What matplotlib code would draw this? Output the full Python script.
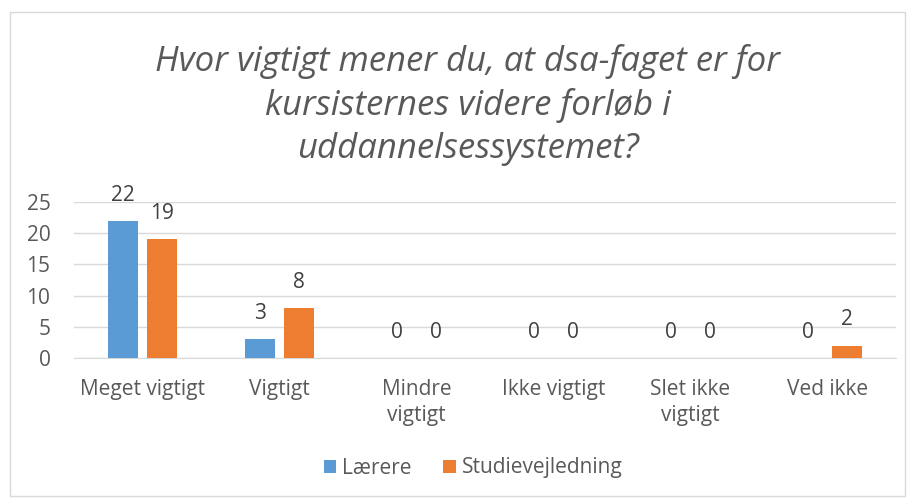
import matplotlib
matplotlib.use("Agg")
import matplotlib.pyplot as plt
import numpy as np
from matplotlib.patches import Rectangle

categories = ["Meget vigtigt", "Vigtigt", "Mindre\nvigtigt", "Ikke vigtigt", "Slet ikke\nvigtigt", "Ved ikke"]
laerere = [22, 3, 0, 0, 0, 0]
studievejledning = [19, 8, 0, 0, 0, 2]
series_names = ["Lærere", "Studievejledning"]
title = "Hvor vigtigt mener du, at dsa-faget er for\nkursisternes videre forløb i\nuddannelsessystemet?"

plt.rcParams['font.family'] = ['Open Sans', 'DejaVu Sans']
txt = '#595959'
blue = '#5B9BD5'
orange = '#ED7D31'
fs = 15

W, H = 915, 503
fig = plt.figure(figsize=(W/100, H/100), dpi=100)
# border
fig.patches.append(Rectangle((10/W, 1-496/H), 895/W, 484/H, transform=fig.transFigure,
                             fill=False, edgecolor='#D9D9D9', linewidth=1))

ax = fig.add_axes([74/W, 1-358/H, (896-74)/W, (358-202)/H])
x = np.arange(len(categories))
bw = 0.22
off = 0.142
b1 = ax.bar(x - off, laerere, bw, color=blue, label=series_names[0], zorder=3)
b2 = ax.bar(x + off, studievejledning, bw, color=orange, label=series_names[1], zorder=3)
for bars, vals in ((b1, laerere), (b2, studievejledning)):
    for r, v in zip(bars, vals):
        ax.annotate(str(v), (r.get_x() + r.get_width()/2, v), xytext=(0, 18.5),
                    textcoords='offset points', ha='center', va='center',
                    fontsize=fs, color='#404040')

ax.set_xlim(-0.5, len(categories) - 0.5)
ax.set_ylim(0, 25)
ax.set_yticks([0, 5, 10, 15, 20, 25])
ax.set_xticks(x)
ax.set_xticklabels(categories, fontsize=fs, color=txt, linespacing=1.35)
ax.tick_params(axis='y', labelsize=fs, labelcolor=txt, length=0, pad=17)
ax.tick_params(axis='x', length=0, pad=15)
ax.grid(axis='y', color='#D9D9D9', linewidth=1, zorder=0)
for s in ['top', 'right', 'left']:
    ax.spines[s].set_visible(False)
ax.spines['bottom'].set_color('#D9D9D9')
ax.set_facecolor('none')

fig.text(468/W, 1-105/H, title, ha='center', va='center', fontsize=25, style='italic',
         color=txt, linespacing=1.33)

leg = fig.legend(handles=[b1, b2], labels=series_names, loc='center', bbox_to_anchor=(473/W, 1-468/H),
                 ncol=2, frameon=False, fontsize=fs, handlelength=0.6, handleheight=0.6,
                 columnspacing=1.5, handletextpad=0.3)
for t in leg.get_texts():
    t.set_color(txt)

fig.savefig("out.png", dpi=100)
